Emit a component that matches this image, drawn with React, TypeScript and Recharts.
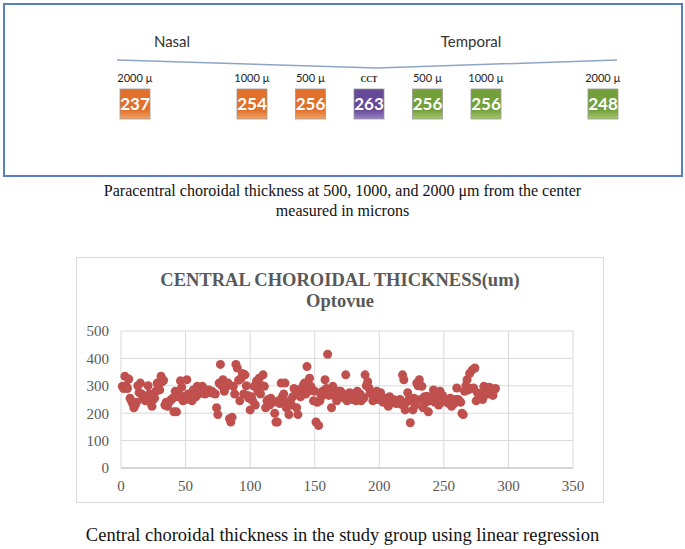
import React from "react";
import {
  CartesianGrid,
  ComposedChart,
  Line,
  Scatter,
  ScatterChart,
  XAxis,
  YAxis,
} from "recharts";

// top panel: paracentral thickness (negative = nasal, positive = temporal)
const sites = [-2000, -1000, -500, 0, 500, 1000, 2000];
const siteLabels = ["2000 µ", "1000 µ", "500 µ", "CCT", "500 µ", "1000 µ", "2000 µ"];
const siteValues = [237, 254, 256, 263, 256, 256, 248];
const siteSide = ["nasal", "nasal", "nasal", "center", "temporal", "temporal", "temporal"];

// bracket line over the labels (distance, pixel row)
const bracketX = [-2154, 68, 2120];
const bracketY = [60, 68, 60];

// bottom panel: central choroidal thickness per eye, x = 1..290
const cctValues = [
  298, 290, 335, 300, 290, 325, 255, 245, 235, 220,
  230, 240, 300, 275, 310, 270, 255, 250, 245, 260,
  300, 270, 240, 225, 250, 255, 280, 310, 300, 285,
  335, 315, 320, 230, 240, 225, 240, 245, 250, 255,
  205, 280, 205, 260, 270, 318, 295, 245, 260, 250,
  322, 270, 260, 250, 245, 285, 265, 260, 298, 270,
  275, 280, 298, 290, 270, 275, 280, 285, 275, 280,
  278, 272, 270, 220, 195, 310, 378, 300, 322, 280,
  295, 300, 310, 180, 168, 185, 298, 270, 378, 365,
  320, 245, 328, 345, 270, 340, 300, 265, 255, 212,
  260, 245, 298, 230, 318, 280, 328, 270, 300, 340,
  298, 220, 245, 250, 230, 255, 245, 240, 200, 168,
  168, 245, 235, 310, 260, 270, 310, 220, 240, 195,
  245, 230, 260, 290, 285, 220, 195, 270, 260, 290,
  300, 310, 270, 370, 280, 328, 298, 285, 245, 280,
  168, 240, 155, 245, 260, 280, 270, 322, 290, 415,
  265, 275, 220, 298, 285, 260, 245, 270, 280, 280,
  260, 270, 255, 340, 245, 265, 275, 260, 250, 270,
  255, 245, 280, 260, 270, 245, 260, 255, 340, 300,
  315, 292, 275, 270, 245, 255, 260, 280, 250, 255,
  275, 245, 240, 250, 255, 245, 225, 260, 245, 240,
  250, 240, 235, 245, 240, 250, 232, 340, 322, 212,
  240, 275, 250, 165, 245, 212, 255, 230, 310, 300,
  322, 250, 298, 220, 260, 240, 262, 205, 245, 250,
  260, 285, 240, 255, 245, 230, 280, 250, 265, 255,
  245, 240, 250, 235, 255, 225, 245, 235, 250, 292,
  250, 245, 240, 200, 195, 280, 300, 322, 285, 345,
  290, 358, 292, 365, 245, 275, 270, 260, 270, 250,
  298, 285, 270, 270, 295, 292, 275, 265, 285, 290,
];
const xTicks = [0, 50, 100, 150, 200, 250, 300, 350];
const yTicks = [0, 100, 200, 300, 400, 500];

const serif = "'Liberation Serif', 'Times New Roman', serif";
const gray = "#595959";

const boxColors: Record<string, [string, string]> = {
  nasal: ["#e0702a", "#f3a466"],
  center: ["#664a98", "#9b83c6"],
  temporal: ["#72a03a", "#a9c96e"],
};

function SiteBox(props: any) {
  const { cx, cy, payload } = props;
  if (cx == null || cy == null) return null;
  const id = `g-${payload.side}`;
  const [c1, c2] = boxColors[payload.side];
  const isCct = payload.label === "CCT";
  return (
    <g>
      <defs>
        <linearGradient id={id} x1="0" y1="0" x2="0" y2="1">
          <stop offset="0%" stopColor={c1} />
          <stop offset="70%" stopColor={c1} />
          <stop offset="100%" stopColor={c2} />
        </linearGradient>
      </defs>
      <text
        x={cx}
        y={cy - 22}
        textAnchor="middle"
        fontSize={isCct ? 8 : 11}
        fontFamily={isCct ? serif : "Lato, sans-serif"}
        fontWeight={isCct ? 700 : 400}
        fill="#222"
      >
        {payload.label}
      </text>
      <rect x={cx - 15} y={cy - 15} width={30} height={30} fill={`url(#${id})`} stroke="#9a9a9a" strokeWidth={0.8} />
      <text
        x={cx}
        y={cy + 6}
        textAnchor="middle"
        fontSize={17}
        fontWeight={700}
        fontFamily="Lato, sans-serif"
        fill="#ffffff"
      >
        {payload.value}
      </text>
    </g>
  );
}

function Dot(props: any) {
  const { cx, cy } = props;
  if (cx == null || cy == null) return null;
  return <circle cx={cx} cy={cy} r={4.5} fill="#c0504d" />;
}

export default function App() {
  const siteData = sites.map((d, i) => ({
    d,
    y: 104,
    label: siteLabels[i],
    value: siteValues[i],
    side: siteSide[i],
  }));
  const bracketData = bracketX.map((d, i) => ({ d, y: bracketY[i] }));
  const cctData = cctValues.map((v, i) => ({ x: i + 1, y: v }));

  return (
    <div
      style={{
        position: "absolute",
        left: 0,
        top: 0,
        width: 685,
        height: 549,
        background: "#ffffff",
        fontFamily: serif,
      }}
    >
      {/* top panel */}
      <div
        style={{
          position: "absolute",
          left: 3,
          top: 3,
          width: 676,
          height: 170,
          border: "2px solid #5a7fbf",
        }}
      />
      <div style={{ position: "absolute", left: 0, top: 0 }}>
        <ComposedChart width={685} height={180} margin={{ top: 0, right: 0, bottom: 0, left: 0 }}>
          <XAxis type="number" dataKey="d" domain={[-3154, 2701]} hide allowDataOverflow />
          <YAxis type="number" dataKey="y" domain={[0, 180]} reversed hide allowDataOverflow />
          <Line
            data={bracketData}
            dataKey="y"
            stroke="#8fa5c6"
            strokeWidth={1.5}
            dot={false}
            activeDot={false}
            legendType="none"
            isAnimationActive={false}
          />
          <Scatter data={siteData} dataKey="y" shape={SiteBox} isAnimationActive={false} />
        </ComposedChart>
      </div>
      <div
        style={{
          position: "absolute",
          left: 132,
          top: 32,
          width: 80,
          textAlign: "center",
          fontFamily: "Lato, sans-serif",
          fontSize: 15,
          color: "#333",
        }}
      >
        Nasal
      </div>
      <div
        style={{
          position: "absolute",
          left: 421,
          top: 32,
          width: 100,
          textAlign: "center",
          fontFamily: "Lato, sans-serif",
          fontSize: 15,
          color: "#333",
        }}
      >
        Temporal
      </div>

      <div
        style={{
          position: "absolute",
          left: 0,
          top: 181,
          width: 685,
          textAlign: "center",
          fontSize: 16,
          lineHeight: "20px",
          color: "#111",
        }}
      >
        Paracentral choroidal thickness at 500, 1000, and 2000 μm from the center
        <br />
        measured in microns
      </div>

      {/* bottom panel */}
      <div
        style={{
          position: "absolute",
          left: 76,
          top: 257,
          width: 526,
          height: 244,
          border: "1px solid #d9d9d9",
        }}
      >
        <div
          style={{
            position: "absolute",
            left: 0,
            top: 12,
            width: 526,
            textAlign: "center",
            fontSize: 18.5,
            fontWeight: 700,
            lineHeight: "21px",
            color: gray,
          }}
        >
          CENTRAL CHOROIDAL THICKNESS(um)
          <br />
          Optovue
        </div>
        <ScatterChart width={526} height={244} margin={{ top: 73, right: 30, bottom: 0, left: 0 }}>
          <CartesianGrid stroke="#d9d9d9" />
          <XAxis
            type="number"
            dataKey="x"
            domain={[0, 350]}
            ticks={xTicks}
            height={34}
            tickLine={false}
            tickMargin={6}
            axisLine={{ stroke: "#bfbfbf" }}
            tick={{ fill: gray, fontSize: 15, fontFamily: serif }}
          />
          <YAxis
            type="number"
            dataKey="y"
            domain={[0, 500]}
            ticks={yTicks}
            width={44}
            tickLine={false}
            axisLine={false}
            tickMargin={6}
            tick={{ fill: gray, fontSize: 15, fontFamily: serif }}
          />
          <Scatter data={cctData} shape={Dot} isAnimationActive={false} />
        </ScatterChart>
      </div>

      <div
        style={{
          position: "absolute",
          left: 0,
          top: 525,
          width: 685,
          textAlign: "center",
          fontSize: 18.5,
          lineHeight: "20px",
          color: "#111",
        }}
      >
        Central choroidal thickness in the study group using linear regression
      </div>
    </div>
  );
}
